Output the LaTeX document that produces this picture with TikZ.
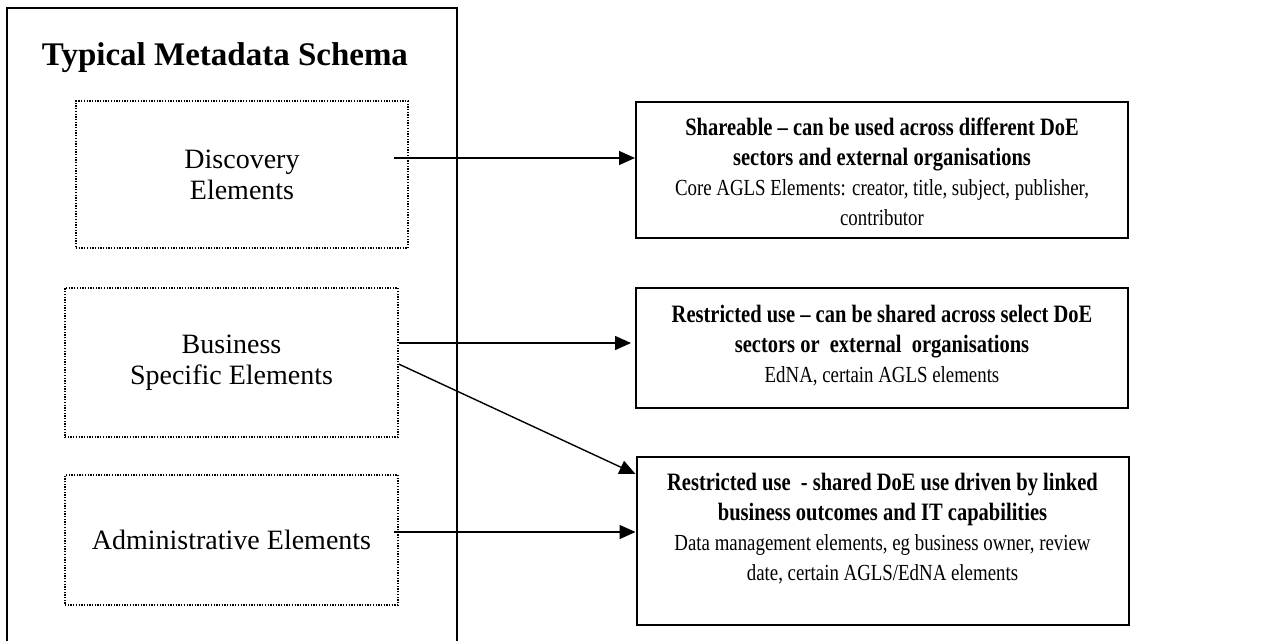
\documentclass[tikz,border=0pt]{standalone}
\usepackage{fontspec}
\setmainfont{Liberation Serif}
\newfontfamily\panelfont[Ligatures=TeX,FakeStretch=0.82]{Liberation Serif}
\usetikzlibrary{arrows.meta,positioning}

\newcommand{\headline}[1]{{\fontsize{25}{30}\selectfont\bfseries #1}}

\begin{document}
\begin{tikzpicture}[
  x=1pt,y=-1pt,>=Triangle,
  flow/.style={-{Triangle[length=16pt,width=14pt]},draw=black,line width=1.4pt},
  frame/.style={draw=black,line width=2pt},
  group/.style={draw=black,line width=1.3pt,dash pattern=on 1.3pt off 1.4pt,
    align=center,font=\fontsize{28}{31}\selectfont},
  panel/.style={draw=black,line width=2pt,minimum width=492pt},
  paneltext/.style={align=center,inner sep=0pt,anchor=north,
    font=\panelfont\fontsize{23}{30}\selectfont},
  schematitle/.style={font=\fontsize{33}{36}\selectfont\bfseries,anchor=base}
]
\useasboundingbox (0,0) rectangle (1282,641);

% Left: the schema with its three element groups.
\draw[frame] (7,641) -- (7,8) -- (457,8) -- (457,641);
\node[schematitle] (head) at (225,65) {Typical Metadata Schema};

\node[group,minimum width=332pt,minimum height=147pt] (disc) at (242,174.5)
  {Discovery\\Elements};
\node[group,minimum width=333pt,minimum height=149pt] (bus) at (231.5,362.5)
  {Business\\Specific Elements};
\node[group,minimum width=333pt,minimum height=130pt] (admin) at (231.5,540)
  {Administrative Elements};

% Right: levels of sharing.
\node[panel,minimum height=136pt] (share) at (882,170) {};
\node[paneltext] (sharetxt) at ([yshift=-17pt]share.north)
  {\headline{Shareable -- can be used across different DoE}\\
   \headline{sectors and external organisations}\\
   Core AGLS Elements: creator, title, subject, publisher,\\
   contributor};

\node[panel,minimum height=120pt] (restr) at (882,348) {};
\node[paneltext] (restrtxt) at ([yshift=-18pt]restr.north)
  {\headline{Restricted use -- can be shared across select DoE}\\
   \headline{sectors or\ \ external\ \ organisations}\\
   EdNA, certain AGLS elements};

\node[panel,minimum height=168pt] (drive) at (882.5,541) {};
\node[paneltext] (drivetxt) at ([yshift=-17pt]drive.north)
  {\headline{Restricted use\ \ - shared DoE use driven by linked}\\
   \headline{business outcomes and IT capabilities}\\
   Data management elements, eg business owner, review\\
   date, certain AGLS/EdNA elements};

\draw[flow] ([shift={(-15,-16.5)}]disc.east) coordinate (d0) -- (d0 -| share.west);
\draw[flow,shorten >=4pt] ([yshift=19.5pt]bus.east) coordinate (b0) -- (b0 -| restr.west);
\draw[flow] ([yshift=-1.5pt]bus.east) -- ([yshift=-18pt]drive.north west);
\draw[flow] ([shift={(-5,-8)}]admin.east) coordinate (a0) -- (a0 -| drive.west);

\end{tikzpicture}
\end{document}
